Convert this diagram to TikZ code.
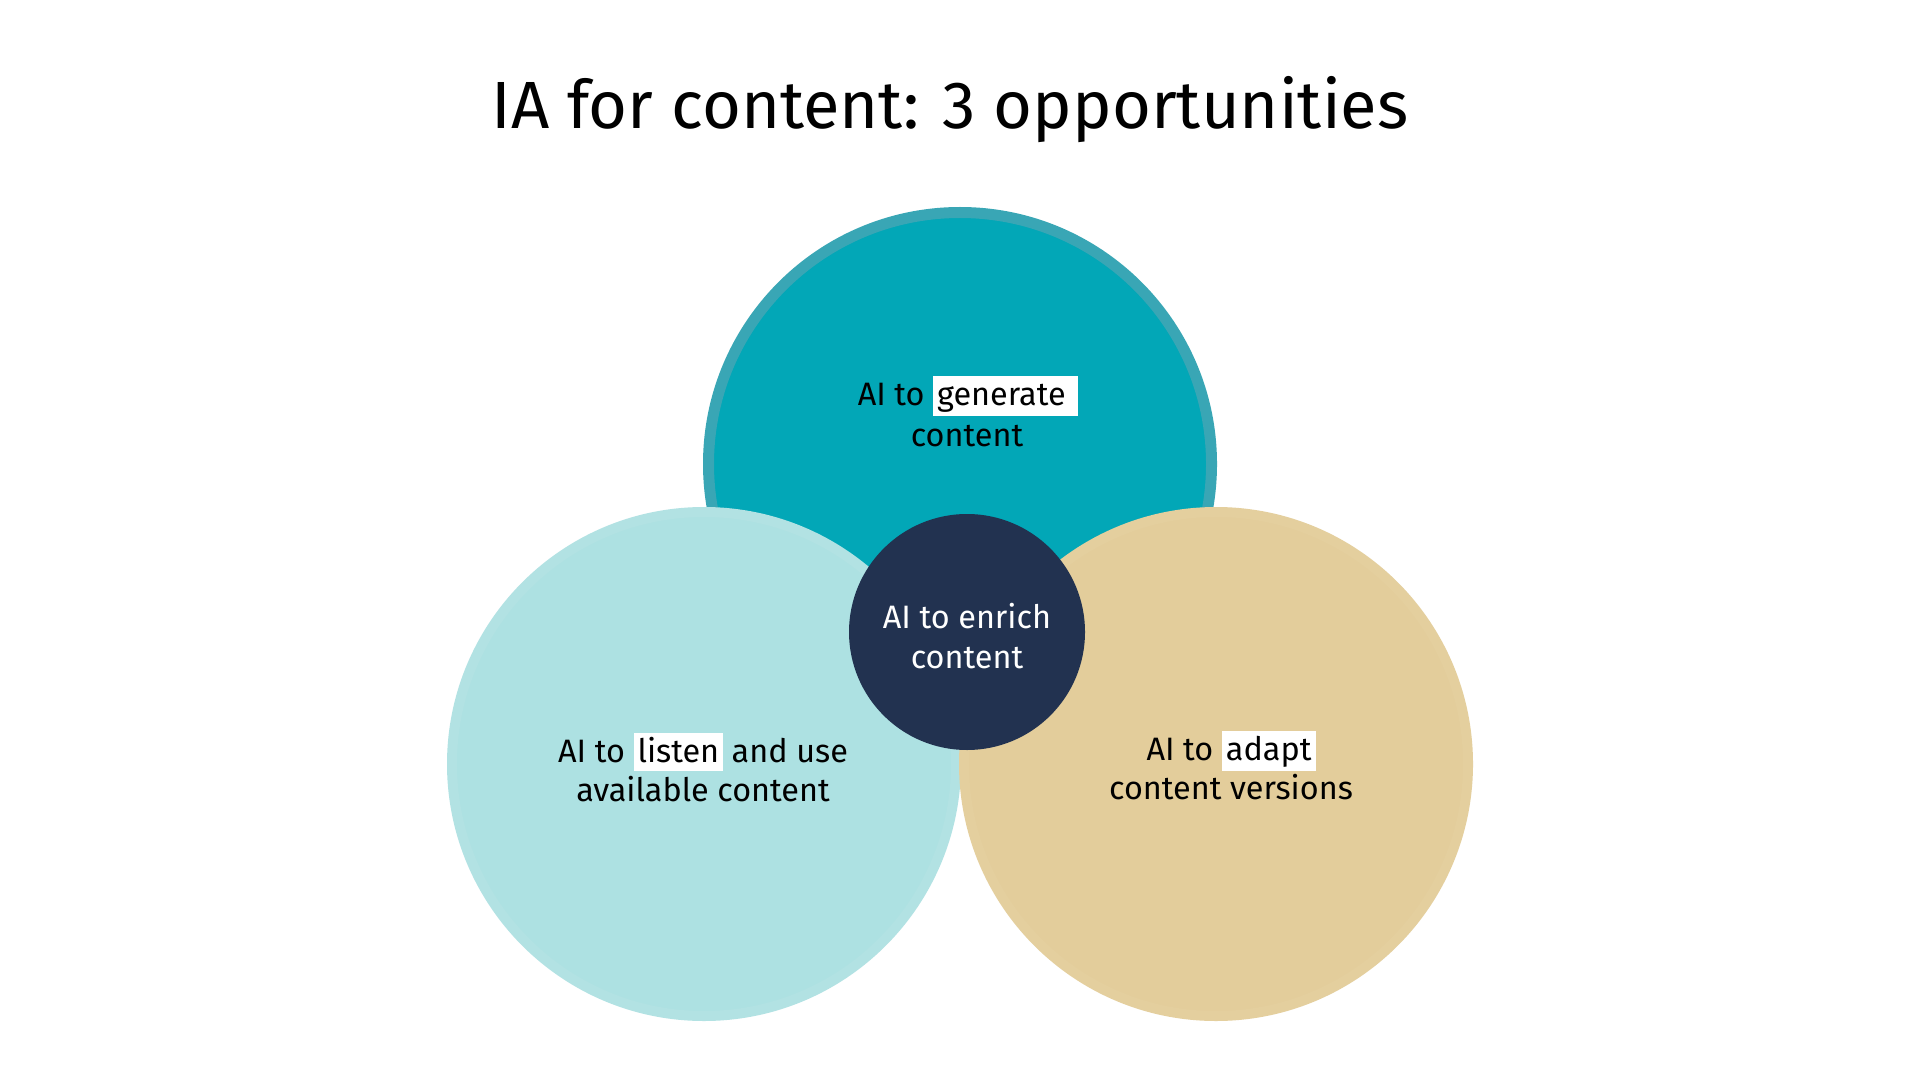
\documentclass[tikz,border=0pt]{standalone}
\usepackage{fontspec}
\setmainfont{Fira Sans}
\usepackage{xcolor}
\definecolor{topteal}{RGB}{2,167,183}
\definecolor{topring}{RGB}{57,166,181}
\definecolor{lightteal}{RGB}{173,225,226}
\definecolor{lightring}{RGB}{178,226,227}
\definecolor{tan}{RGB}{227,205,155}
\definecolor{tanring}{RGB}{228,207,158}
\definecolor{navy}{RGB}{34,50,80}
\newcommand\hlword[1]{{\setlength{\fboxsep}{2pt}\colorbox{white}{\rule[-2.5pt]{0pt}{15pt}#1}}}
\tikzset{
  bubble/.style={circle, inner sep=0pt, outer sep=0pt},
  bodytext/.style={anchor=base, inner sep=0pt, font=\fontsize{16.2}{20}\selectfont, text=black},
  titletext/.style={anchor=base, inner sep=0pt, font=\fontsize{33.4}{40}\selectfont, text=black}
}
\begin{document}
\begin{tikzpicture}
\useasboundingbox (0pt,0pt) rectangle (960pt,-540pt);
\fill[white] (0pt,0pt) rectangle (960pt,-540pt);
\node[titletext] (title) at (475pt,-64.5pt) {IA for content: 3 opportunities};
% circles
\node[bubble, fill=topteal, draw=topring, line width=5.5pt, minimum size=251.5pt] (gen) at (480pt,-232pt) {};
\node[bubble, fill=lightteal, draw=lightring, line width=5pt, minimum size=252pt] (listen) at (352pt,-382pt) {};
\node[bubble, fill=tan, draw=tanring, line width=5pt, minimum size=252pt] (adapt) at (608pt,-382pt) {};
\node[bubble, fill=navy, minimum size=118pt] (enrich) at (483.5pt,-316pt) {};
% texts
\node[bodytext] (gen1) at (484pt,-202.5pt) {AI to \hlword{generate\ }};
\node[bodytext] (gen2) at (483.5pt,-223pt) {content};
\node[bodytext] (lis1) at (351.5pt,-381pt) {AI to \hlword{listen} and use};
\node[bodytext] (lis2) at (351.5pt,-400.5pt) {available content};
\node[bodytext] (ada1) at (615.5pt,-380pt) {AI to \hlword{adapt}};
\node[bodytext] (ada2) at (615.5pt,-399.5pt) {content versions};
\node[bodytext, text=white] (enr1) at (483.5pt,-314pt) {AI to enrich};
\node[bodytext, text=white] (enr2) at (483.5pt,-334pt) {content};
\end{tikzpicture}
\end{document}
